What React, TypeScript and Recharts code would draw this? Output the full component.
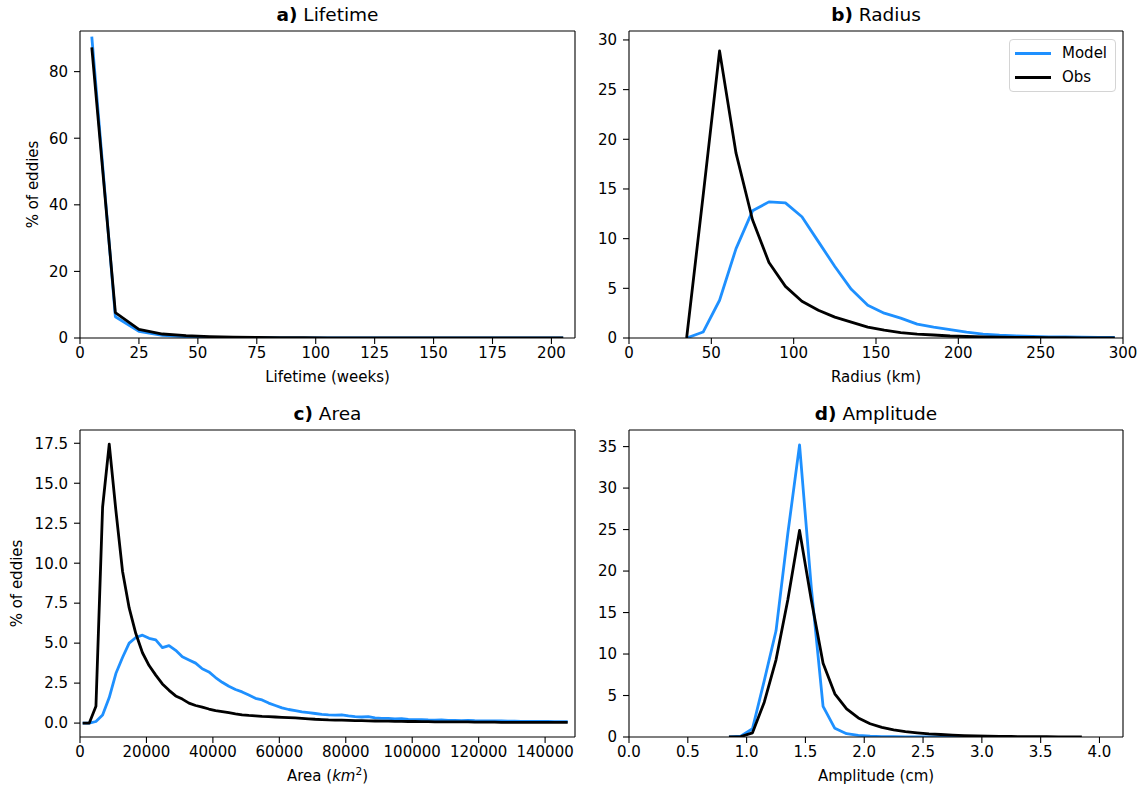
import React from 'react';
import { LineChart, Line, XAxis, YAxis, Legend } from 'recharts';

const FONT = '"DejaVu Sans", Verdana, sans-serif';
const MODEL_COLOR = '#1e90ff';
const OBS_COLOR = '#000000';

// a) Lifetime (weeks)
const lifetimeBins = [5, 15, 25, 35, 45, 55, 65, 75, 85, 95, 105, 115, 125, 135, 145, 155, 165, 175, 185, 195, 205];
const lifetimeModel = [90.5, 6.4, 2.0, 0.8, 0.4, 0.2, 0.12, 0.08, 0.05, 0.04, 0.03, 0.02, 0.02, 0.01, 0.01, 0.01, 0.01, 0, 0, 0, 0];
const lifetimeObs = [87.3, 7.6, 2.6, 1.2, 0.7, 0.4, 0.25, 0.15, 0.1, 0.08, 0.06, 0.05, 0.04, 0.03, 0.02, 0.02, 0.01, 0.01, 0.01, 0.01, 0.01];
const lifetimeXTicks = [0, 25, 50, 75, 100, 125, 150, 175, 200];
const lifetimeYTicks = [0, 20, 40, 60, 80];

// b) Radius (km)
const radiusBins = [35, 45, 55, 65, 75, 85, 95, 105, 115, 125, 135, 145, 155, 165, 175, 185, 195, 205, 215, 225, 235, 245, 255, 265, 275, 285, 295];
const radiusModel = [0, 0.6, 3.8, 9.0, 12.8, 13.7, 13.6, 12.2, 9.7, 7.2, 4.9, 3.3, 2.5, 2.0, 1.4, 1.1, 0.85, 0.6, 0.4, 0.28, 0.2, 0.15, 0.12, 0.1, 0.08, 0.06, 0.05];
const radiusObs = [0, 14.3, 28.9, 18.6, 11.9, 7.6, 5.2, 3.7, 2.8, 2.1, 1.6, 1.1, 0.8, 0.55, 0.4, 0.3, 0.2, 0.15, 0.1, 0.08, 0.06, 0.05, 0.04, 0.03, 0.02, 0.02, 0.01];
const radiusXTicks = [0, 50, 100, 150, 200, 250, 300];
const radiusYTicks = [0, 5, 10, 15, 20, 25, 30];

// c) Area (km^2)
const areaBins = [
  800, 2800, 4800, 6800, 8800, 10800, 12800, 14800, 16800, 18800,
  20800, 22800, 24800, 26800, 28800, 30800, 32800, 34800, 36800, 38800,
  40800, 42800, 44800, 46800, 48800, 50800, 52800, 54800, 56800, 58800,
  60800, 62800, 64800, 66800, 68800, 70800, 72800, 74800, 76800, 78800,
  80800, 82800, 84800, 86800, 88800, 90800, 92800, 94800, 96800, 98800,
  100800, 102800, 104800, 106800, 108800, 110800, 112800, 114800, 116800, 118800,
  120800, 122800, 124800, 126800, 128800, 130800, 132800, 134800, 136800, 138800,
  140800, 142800, 144800, 146800,
];
const areaModel = [
  0, 0, 0.1, 0.5, 1.6, 3.1, 4.1, 5.0, 5.35, 5.5,
  5.3, 5.2, 4.72, 4.85, 4.55, 4.15, 3.95, 3.75, 3.4, 3.2,
  2.85, 2.55, 2.3, 2.1, 1.95, 1.75, 1.55, 1.45, 1.25, 1.1,
  0.95, 0.85, 0.78, 0.7, 0.65, 0.6, 0.55, 0.52, 0.5, 0.52,
  0.45, 0.4, 0.38, 0.4, 0.33, 0.3, 0.3, 0.26, 0.28, 0.23,
  0.22, 0.22, 0.2, 0.19, 0.2, 0.17, 0.17, 0.16, 0.17, 0.15,
  0.14, 0.14, 0.13, 0.13, 0.12, 0.12, 0.11, 0.11, 0.1, 0.1,
  0.1, 0.09, 0.09, 0.09,
];
const areaObs = [
  0, 0, 1.05, 13.5, 17.45, 13.3, 9.5, 7.2, 5.6, 4.4,
  3.6, 3.0, 2.45, 2.05, 1.7, 1.5, 1.25, 1.1, 1.0, 0.88,
  0.78, 0.72, 0.65, 0.58, 0.52, 0.48, 0.45, 0.42, 0.4, 0.38,
  0.36, 0.34, 0.32, 0.3, 0.27, 0.24, 0.22, 0.2, 0.19, 0.18,
  0.17, 0.16, 0.15, 0.14, 0.13, 0.12, 0.12, 0.11, 0.11, 0.1,
  0.1, 0.09, 0.09, 0.08, 0.08, 0.08, 0.07, 0.07, 0.07, 0.06,
  0.06, 0.06, 0.06, 0.05, 0.05, 0.05, 0.05, 0.05, 0.04, 0.04,
  0.04, 0.04, 0.04, 0.04,
];
const areaXTicks = [0, 20000, 40000, 60000, 80000, 100000, 120000, 140000];
const areaYTicks = [0, 2.5, 5, 7.5, 10, 12.5, 15, 17.5];

// d) Amplitude (cm)
const ampBins = [
  0.85, 0.95, 1.05, 1.15, 1.25, 1.35, 1.45, 1.55, 1.65, 1.75,
  1.85, 1.95, 2.05, 2.15, 2.25, 2.35, 2.45, 2.55, 2.65, 2.75,
  2.85, 2.95, 3.05, 3.15, 3.25, 3.35, 3.45, 3.55, 3.65, 3.75, 3.85,
];
const ampModel = [
  0, 0.1, 1.0, 6.8, 12.8, 24.5, 35.2, 18.0, 3.7, 1.05,
  0.4, 0.2, 0.1, 0.05, 0.03, 0.02, 0.01, 0, 0, 0, 0, 0,
];
const ampObs = [
  0, 0.05, 0.5, 4.2, 9.3, 16.5, 24.9, 16.5, 8.9, 5.2,
  3.4, 2.3, 1.6, 1.15, 0.85, 0.65, 0.5, 0.38, 0.3, 0.22,
  0.17, 0.13, 0.1, 0.08, 0.06, 0.05, 0.04, 0.03, 0.02, 0.02, 0.01,
];
const ampXTicks = [0, 0.5, 1, 1.5, 2, 2.5, 3, 3.5, 4];
const ampYTicks = [0, 5, 10, 15, 20, 25, 30, 35];

const toPoints = (xs: number[], ys: number[]) => ys.map((y, i) => ({ x: xs[i], y }));

const CHART_W = 590;
const CHART_H = 395;
const MARGIN_TOP = 30; // + 1px top spine axis = plot top at 31
const X_AXIS_H = 57;
const Y_AXIS_W = 80;
const TICK_FONT = 15;
const SPINE = { stroke: '#000', strokeWidth: 1.1 };

const tickStyle = { fill: '#000', fontSize: TICK_FONT, fontFamily: FONT };

const LegendBox = ({ payload }: any) => (
  <div
    style={{
      width: 105,
      height: 51,
      border: '1px solid #d4d4d4',
      borderRadius: 4,
      background: 'rgba(255,255,255,0.8)',
      fontFamily: FONT,
      fontSize: TICK_FONT,
      position: 'relative',
    }}
  >
    {(payload || []).map((p: any, i: number) => (
      <div key={p.value} style={{ position: 'absolute', left: 0, top: 2 + i * 24, height: 22, display: 'flex', alignItems: 'center' }}>
        <div style={{ marginLeft: 5, width: 36, height: 3, background: p.color }} />
        <span style={{ marginLeft: 11, lineHeight: '22px' }}>{p.value}</span>
      </div>
    ))}
  </div>
);

type PanelProps = {
  left: number;
  top: number;
  marginRight: number;
  letter: string;
  title: string;
  model: { x: number; y: number }[];
  obs: { x: number; y: number }[];
  xDomain: [number, number];
  xTicks: number[];
  yDomain: [number, number];
  yTicks: number[];
  xFmt?: (v: number) => string;
  yFmt?: (v: number) => string;
  xLabel: React.ReactNode;
  yLabelX?: number;
  legend?: boolean;
};

const Panel = (p: PanelProps) => {
  const plotLeft = p.left + Y_AXIS_W;
  const plotW = CHART_W - Y_AXIS_W - p.marginRight - 1;
  return (
    <>
      <div
        style={{
          position: 'absolute',
          left: plotLeft,
          width: plotW,
          top: p.top + 3,
          textAlign: 'center',
          fontFamily: FONT,
          fontSize: 18.5,
          lineHeight: '24px',
          color: '#000',
        }}
      >
        <b>{p.letter}</b> {p.title}
      </div>
      <div style={{ position: 'absolute', left: p.left, top: p.top }}>
        <LineChart
          width={CHART_W}
          height={CHART_H}
          margin={{ top: MARGIN_TOP, right: p.marginRight, bottom: 0, left: 0 }}
        >
          <XAxis
            xAxisId="bottom"
            type="number"
            dataKey="x"
            domain={p.xDomain}
            ticks={p.xTicks}
            allowDataOverflow
            height={X_AXIS_H}
            tickSize={6}
            tickMargin={3}
            tickFormatter={p.xFmt}
            tick={tickStyle}
            axisLine={SPINE}
            tickLine={SPINE}
            interval={0}
            label={(lp: any) => {
              const vb = lp.viewBox;
              return (
                <text
                  x={vb.x + vb.width / 2}
                  y={vb.y + 44}
                  textAnchor="middle"
                  fontFamily={FONT}
                  fontSize={15}
                  fill="#000"
                >
                  {p.xLabel}
                </text>
              );
            }}
          />
          <XAxis
            xAxisId="top"
            orientation="top"
            type="number"
            dataKey="x"
            domain={p.xDomain}
            allowDataOverflow
            height={1}
            tick={false}
            tickLine={false}
            axisLine={SPINE}
          />
          <YAxis
            yAxisId="left"
            type="number"
            domain={p.yDomain}
            ticks={p.yTicks}
            allowDataOverflow
            width={Y_AXIS_W}
            tickSize={6}
            tickMargin={6}
            tickFormatter={p.yFmt}
            tick={tickStyle}
            axisLine={SPINE}
            tickLine={SPINE}
            interval={0}
            label={
              p.yLabelX === undefined
                ? undefined
                : (lp: any) => {
                    const vb = lp.viewBox;
                    const cx = vb.x + (p.yLabelX as number);
                    const cy = vb.y + vb.height / 2;
                    return (
                      <text
                        x={cx}
                        y={cy}
                        transform={`rotate(-90 ${cx} ${cy})`}
                        textAnchor="middle"
                        dominantBaseline="central"
                        fontFamily={FONT}
                        fontSize={15}
                        fill="#000"
                      >
                        % of eddies
                      </text>
                    );
                  }
            }
          />
          <YAxis
            yAxisId="right"
            orientation="right"
            type="number"
            domain={p.yDomain}
            allowDataOverflow
            width={1}
            tick={false}
            tickLine={false}
            axisLine={SPINE}
          />
          {p.legend && (
            <Legend
              layout="horizontal"
              verticalAlign="middle"
              align="center"
              content={<LegendBox />}
              wrapperStyle={{ left: 460, top: 39, width: 107, height: 53 }}
            />
          )}
          <Line
            xAxisId="bottom"
            yAxisId="left"
            name="Model"
            data={p.model}
            dataKey="y"
            type="linear"
            stroke={MODEL_COLOR}
            strokeWidth={2.8}
            strokeLinejoin="round"
            dot={false}
            activeDot={false}
            isAnimationActive={false}
          />
          <Line
            xAxisId="bottom"
            yAxisId="left"
            name="Obs"
            data={p.obs}
            dataKey="y"
            type="linear"
            stroke={OBS_COLOR}
            strokeWidth={2.8}
            strokeLinejoin="round"
            dot={false}
            activeDot={false}
            isAnimationActive={false}
          />
        </LineChart>
      </div>
    </>
  );
};

const fmt1 = (v: number) => v.toFixed(1);

const areaLabel = (
  <>
    <tspan>Area (</tspan>
    <tspan fontStyle="italic">km</tspan>
    <tspan dy={-6} fontSize={10.5}>2</tspan>
    <tspan dy={6}>)</tspan>
  </>
);

export default function App() {
  return (
    <div style={{ position: 'absolute', left: 0, top: 0, width: 1144, height: 790, background: '#fff', overflow: 'hidden' }}>
      <Panel
        left={0}
        top={0}
        marginRight={14}
        letter="a)"
        title="Lifetime"
        model={toPoints(lifetimeBins, lifetimeModel)}
        obs={toPoints(lifetimeBins, lifetimeObs)}
        xDomain={[0, 210]}
        xTicks={lifetimeXTicks}
        yDomain={[0, 92.2]}
        yTicks={lifetimeYTicks}
        xLabel="Lifetime (weeks)"
        yLabelX={33}
      />
      <Panel
        left={549}
        top={0}
        marginRight={15}
        letter="b)"
        title="Radius"
        model={toPoints(radiusBins, radiusModel)}
        obs={toPoints(radiusBins, radiusObs)}
        xDomain={[0, 300]}
        xTicks={radiusXTicks}
        yDomain={[0, 30.9]}
        yTicks={radiusYTicks}
        xLabel="Radius (km)"
        legend
      />
      <Panel
        left={0}
        top={399}
        marginRight={14}
        letter="c)"
        title="Area"
        model={toPoints(areaBins, areaModel)}
        obs={toPoints(areaBins, areaObs)}
        xDomain={[0, 149000]}
        xTicks={areaXTicks}
        yDomain={[-0.87, 18.33]}
        yTicks={areaYTicks}
        yFmt={fmt1}
        xLabel={areaLabel}
        yLabelX={17}
      />
      <Panel
        left={549}
        top={399}
        marginRight={15}
        letter="d)"
        title="Amplitude"
        model={toPoints(ampBins, ampModel)}
        obs={toPoints(ampBins, ampObs)}
        xDomain={[0, 4.2]}
        xTicks={ampXTicks}
        yDomain={[0, 37]}
        yTicks={ampYTicks}
        xFmt={fmt1}
        xLabel="Amplitude (cm)"
      />
    </div>
  );
}
